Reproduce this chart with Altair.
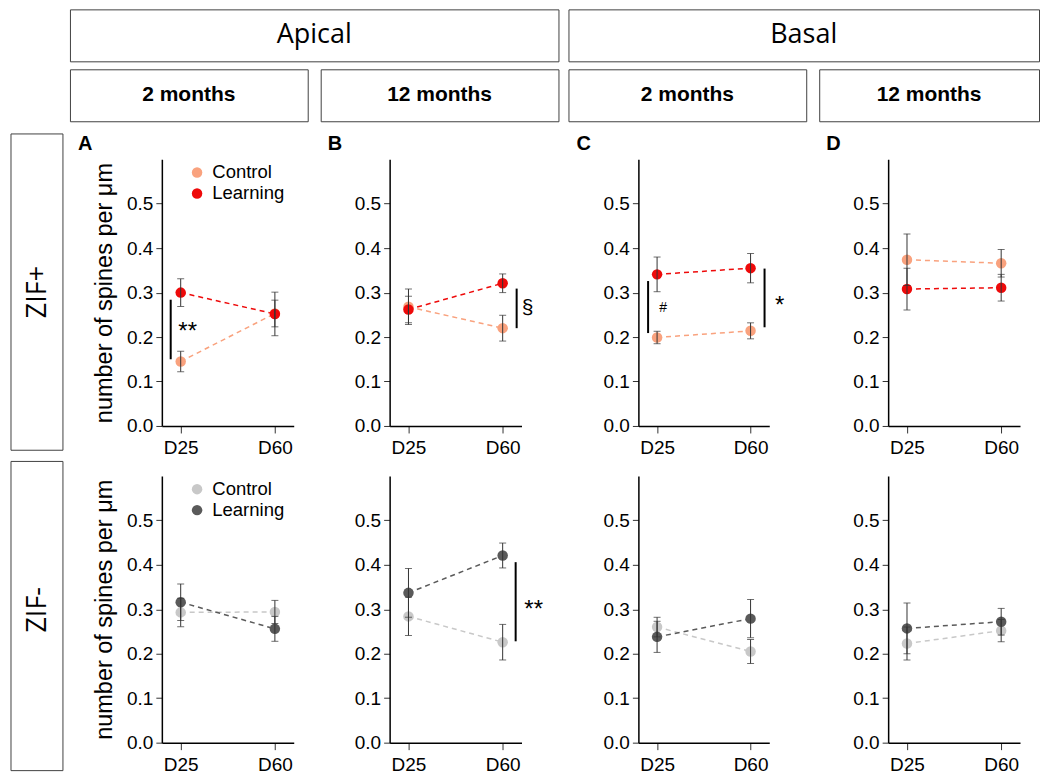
import altair as alt
import pandas as pd

# ---------------- data ----------------
times = ["D25", "D60"]
groups = ["Control", "Learning"]
panel_letters = ["A", "B", "C", "D"]
row_labels = ["ZIF+", "ZIF-"]
top_headers = ["Apical", "Basal"]
sub_headers = ["2 months", "12 months", "2 months", "12 months"]
y_ticks = [0.0, 0.1, 0.2, 0.3, 0.4, 0.5]
y_title = "number of spines per μm"

# ZIF+ row, panels A-D, values at [D25, D60]
zifp_ctrl_mean = [[0.145, 0.253], [0.268, 0.220], [0.199, 0.214], [0.374, 0.366]]
zifp_ctrl_err = [[0.023, 0.030], [0.040, 0.029], [0.014, 0.018], [0.058, 0.031]]
zifp_learn_mean = [[0.300, 0.252], [0.262, 0.321], [0.341, 0.355], [0.308, 0.311]]
zifp_learn_err = [[0.031, 0.049], [0.030, 0.021], [0.039, 0.033], [0.047, 0.030]]

# ZIF- row
zifm_ctrl_mean = [[0.293, 0.294], [0.284, 0.226], [0.260, 0.205], [0.223, 0.252]]
zifm_ctrl_err = [[0.032, 0.026], [0.043, 0.040], [0.022, 0.027], [0.037, 0.025]]
zifm_learn_mean = [[0.316, 0.256], [0.337, 0.421], [0.238, 0.279], [0.257, 0.272]]
zifm_learn_err = [[0.041, 0.028], [0.055, 0.028], [0.035, 0.043], [0.057, 0.030]]

row_colors = [["#F9A27E", "#EE0A0A"], ["#C8C8C8", "#5A5A5A"]]

# significance bars
sig_bar_rows = [0, 0, 0, 0, 1]
sig_bar_panels = [0, 1, 2, 2, 1]
sig_bar_times = ["D25", "D60", "D25", "D60", "D60"]
sig_bar_low = [0.150, 0.220, 0.209, 0.222, 0.228]
sig_bar_high = [0.284, 0.309, 0.326, 0.354, 0.406]

# significance labels
sig_txt_rows = [0, 0, 0, 0, 1]
sig_txt_panels = [0, 1, 2, 2, 1]
sig_txt_times = ["D25", "D60", "D25", "D60", "D60"]
sig_txt_y = [0.224, 0.265, 0.265, 0.284, 0.311]
sig_txt_text = ["**", "§", "#", "*", "**"]

# ---------------- styling / layout ----------------
FONT = "Liberation Sans"
HFONT = "Open Sans"
PW = [132, 132, 131, 132]        # plot widths
PH = [267, 267]                   # plot heights per row
BOX = "#404040"
sig_bar_dx = [-10, 14, -9, 14, 13]
sig_txt_dx = [7, 25, 6, 29, 31]
sig_txt_dy = [6, 0, 0, 6, 6]
sig_txt_size = [24, 21, 14, 24, 24]
letter_dx = [-84, -62, -62, -62]

one = pd.DataFrame({"v": [0]})


def spacer(w, h):
    return alt.Chart(one).mark_point(opacity=0, size=1).encode(
        x=alt.value(w / 2), y=alt.value(h / 2)
    ).properties(width=w, height=h)


def anchor(w, top, bottom):
    # invisible rect fixing the vertical extent of a row for the layout
    return alt.Chart(one).mark_rect(opacity=0).encode(
        x=alt.value(-1), x2=alt.value(w), y=alt.value(top), y2=alt.value(bottom)
    )


def left_anchor(w, h, top, bottom):
    return alt.layer(anchor(w, top, bottom)).properties(width=w, height=h)


def header_box(label, w, h, font, size, weight):
    return alt.Chart(pd.DataFrame({"t": [label]})).mark_text(
        font=font, fontSize=size, fontWeight=weight, color="black",
        align="center", baseline="middle"
    ).encode(
        text="t:N", x=alt.value(w / 2), y=alt.value(h / 2)
    ).properties(width=w, height=h,
                 view=alt.ViewBackground(stroke=BOX, strokeWidth=1))


def row_label(label, ph, a_top, a_bot, b_top, b_bot, ty):
    inv = anchor(52, a_top, a_bot)
    box = alt.Chart(one).mark_rect(fillOpacity=0, stroke=BOX, strokeWidth=1).encode(
        x=alt.value(0), x2=alt.value(52), y=alt.value(b_top), y2=alt.value(b_bot)
    )
    txt = alt.Chart(pd.DataFrame({"t": [label]})).mark_text(
        font=HFONT, fontSize=27, angle=270, color="black",
        align="center", baseline="middle"
    ).encode(text="t:N", x=alt.value(27), y=alt.value(ty))
    return alt.layer(inv, box, txt).properties(width=52, height=ph)


def panel_df(row, i):
    if row == 0:
        cm, ce, lm, le = zifp_ctrl_mean[i], zifp_ctrl_err[i], zifp_learn_mean[i], zifp_learn_err[i]
    else:
        cm, ce, lm, le = zifm_ctrl_mean[i], zifm_ctrl_err[i], zifm_learn_mean[i], zifm_learn_err[i]
    recs = []
    for g, means, errs in ((groups[0], cm, ce), (groups[1], lm, le)):
        for t, m, e in zip(times, means, errs):
            recs.append({"group": g, "time": t, "mean": m, "lo": m - e, "hi": m + e})
    return pd.DataFrame(recs)


def panel(row, i):
    df = panel_df(row, i)
    colors = row_colors[row]
    show_title = i == 0
    xenc = alt.X(
        "time:N",
        scale=alt.Scale(type="point", domain=times, padding=0.2),
        axis=alt.Axis(labelAngle=0, tickSize=7, labelPadding=6),
        title=None,
    )
    ax_kw = dict(values=y_ticks, format=".1f", tickSize=6, labelPadding=3)
    if show_title:
        ax_kw.update(titleFontSize=23.5, titlePadding=10, titleFontWeight="normal")
    yaxis = alt.Axis(**ax_kw)
    yscale = alt.Scale(domain=[0, 0.6], nice=False, zero=True)

    def Y(field):
        return alt.Y(field, scale=yscale, axis=yaxis,
                     title=y_title if show_title else None)

    base = alt.Chart(df)
    layers = []
    for g, c in zip(groups, colors):
        layers.append(
            base.transform_filter(alt.datum.group == g).mark_line(
                strokeDash=[5, 4], strokeWidth=1.5, color=c
            ).encode(x=xenc, y=Y("mean:Q"))
        )
    cscale = alt.Scale(domain=groups, range=colors)
    if show_title:
        leg = alt.Legend(
            orient="none", legendX=26, legendY=4, title=None,
            labelFont=FONT, labelFontSize=18.5, labelColor="black",
            symbolType="circle", symbolSize=110, symbolStrokeWidth=0,
            symbolOpacity=1, rowPadding=2, labelOffset=6, padding=0,
        )
        color = alt.Color("group:N", scale=cscale, legend=leg)
    else:
        color = alt.Color("group:N", scale=cscale, legend=None)
    points = base.mark_circle(size=110, opacity=1).encode(x=xenc, y=Y("mean:Q"), color=color)
    rules = base.mark_rule(color="#333333", strokeWidth=1).encode(
        x=xenc, y=Y("lo:Q"), y2="hi:Q")
    cap_lo = base.mark_tick(color="#333333", size=7, thickness=1, orient="horizontal").encode(
        x=xenc, y=Y("lo:Q"))
    cap_hi = base.mark_tick(color="#333333", size=7, thickness=1, orient="horizontal").encode(
        x=xenc, y=Y("hi:Q"))
    layers += [points, rules, cap_lo, cap_hi]

    for k in range(len(sig_bar_rows)):
        if sig_bar_rows[k] == row and sig_bar_panels[k] == i:
            d = pd.DataFrame({"time": [sig_bar_times[k]], "lo": [sig_bar_low[k]], "hi": [sig_bar_high[k]]})
            layers.append(alt.Chart(d).mark_rule(color="black", strokeWidth=2, xOffset=sig_bar_dx[k]).encode(
                x=xenc, y=Y("lo:Q"), y2="hi:Q"))
    for k in range(len(sig_txt_rows)):
        if sig_txt_rows[k] == row and sig_txt_panels[k] == i:
            d = pd.DataFrame({"time": [sig_txt_times[k]], "y": [sig_txt_y[k]], "t": [sig_txt_text[k]]})
            layers.append(alt.Chart(d).mark_text(
                font=FONT, fontSize=sig_txt_size[k], color="black", align="center",
                baseline="middle", xOffset=sig_txt_dx[k], dy=sig_txt_dy[k]
            ).encode(x=xenc, y=Y("y:Q"), text="t:N"))

    if row == 0:
        letter = alt.Chart(pd.DataFrame({"t": [panel_letters[i]]})).mark_text(
            font=FONT, fontSize=20, fontWeight="bold", color="black",
            align="left", baseline="middle"
        ).encode(text="t:N", x=alt.value(letter_dx[i]), y=alt.value(-15))
        layers.append(letter)

    return alt.layer(*layers).properties(width=PW[i], height=PH[row])


# ---- rows ----
h1 = alt.hconcat(
    left_anchor(59, 52, 0, 52),
    header_box(top_headers[0], 489, 52, HFONT, 27, "normal"),
    spacer(10, 52),
    header_box(top_headers[1], 471, 52, HFONT, 27, "normal"),
    spacing=0, bounds="flush",
)
h2 = alt.hconcat(
    left_anchor(59, 52, -6, 55),
    header_box(sub_headers[0], 238, 52, FONT, 21, "bold"), spacer(13, 52),
    header_box(sub_headers[1], 238, 52, FONT, 21, "bold"), spacer(10, 52),
    header_box(sub_headers[2], 238, 52, FONT, 21, "bold"), spacer(13, 52),
    header_box(sub_headers[3], 220, 52, FONT, 21, "bold"),
    spacing=0, bounds="flush",
)

gaps = [99, 96, 117, 119]
# (anchor top, anchor bottom, box top, box bottom, text centre) relative to the plot top
row_geom = [(-33, 300, -25.3, 291.3, 133), (-15, 296, -14.5, 295, 134)]
panel_rows = []
for r in range(2):
    parts = [row_label(row_labels[r], PH[r], *row_geom[r])]
    for i in range(4):
        parts.append(spacer(gaps[i], PH[r]))
        parts.append(panel(r, i))
    panel_rows.append(
        alt.hconcat(*parts, spacing=0, bounds="flush").resolve_scale(color="independent")
    )

chart = alt.vconcat(
    h1, h2, panel_rows[0], panel_rows[1], spacing=0, bounds="full"
).resolve_scale(
    color="independent"
).properties(
    padding={"left": 1, "top": 0, "right": 0, "bottom": 0}
).configure_view(
    stroke="transparent"
).configure_axis(
    domainColor="black", domainWidth=1.5, tickColor="#333333", tickWidth=1,
    labelFont=FONT, labelFontSize=19, labelColor="black",
    titleFont=FONT, titleColor="black", grid=False,
)

chart.save("out.html", embed_options={"renderer": "svg", "actions": False})
